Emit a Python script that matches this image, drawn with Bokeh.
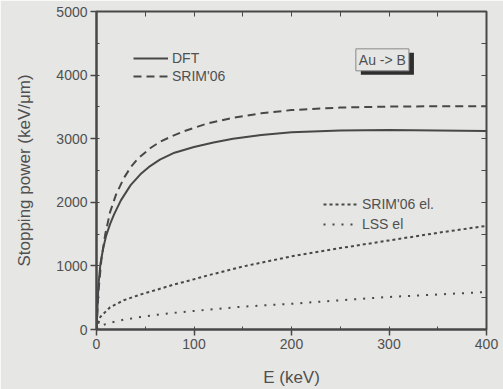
from bokeh.plotting import figure
from bokeh.models import (Legend, LegendItem, LinearAxis, SingleIntervalTicker,
                          Label, Range1d, CustomJSTickFormatter)
from bokeh.embed import file_html
from bokeh.resources import INLINE

# --- data ---
E_dft = [0, 2, 4, 7, 10, 14, 18, 25, 35, 45, 55, 65, 80, 100, 120, 140, 169, 200, 250, 300, 350, 400]
S_dft = [0, 700, 1030, 1290, 1480, 1660, 1810, 2030, 2270, 2440, 2570, 2670, 2780, 2870, 2940, 3000, 3060, 3100, 3130, 3135, 3130, 3120]

E_srim = [0, 2, 5, 9, 14, 20, 28, 35, 42, 55, 65, 76, 90, 100, 114, 140, 169, 200, 250, 300, 350, 400]
S_srim = [0, 600, 1100, 1500, 1850, 2120, 2380, 2550, 2680, 2850, 2950, 3030, 3120, 3170, 3240, 3330, 3400, 3450, 3490, 3505, 3510, 3510]

E_el = [0, 4, 14, 28, 45, 63, 80, 100, 114, 150, 200, 250, 300, 350, 400]
S_srim_el = [0, 200, 350, 460, 550, 630, 710, 790, 850, 990, 1150, 1280, 1400, 1520, 1630]
S_lss_el = [0, 60, 105, 155, 195, 233, 262, 292, 310, 360, 404, 460, 512, 550, 590]

BG = "#e6e6e4"
INK = "#484848"
TXT = "#505050"
FONT = "Liberation Sans"

p = figure(width=503, height=389, output_backend="svg", toolbar_location=None,
           x_range=Range1d(0, 400), y_range=Range1d(0, 5000),
           min_border_left=96, min_border_right=17, min_border_top=11, min_border_bottom=56,
           background_fill_color=BG, border_fill_color=BG)
p.grid.visible = False
p.outline_line_color = INK
p.outline_line_width = 2

p.xaxis.ticker = SingleIntervalTicker(interval=100, num_minor_ticks=2)
p.yaxis.ticker = SingleIntervalTicker(interval=1000, num_minor_ticks=2)
for ax in (p.xaxis[0], p.yaxis[0]):
    ax.axis_line_color = INK
    ax.axis_line_width = 2
    ax.major_tick_line_color = INK
    ax.major_tick_line_width = 1.5
    ax.minor_tick_line_color = INK
    ax.major_tick_out = 6
    ax.major_tick_in = 0
    ax.minor_tick_out = 0
    ax.minor_tick_in = 3
    ax.major_label_text_font = FONT
    ax.major_label_text_font_size = "14px"
    ax.major_label_text_color = TXT
    ax.axis_label_text_font = FONT
    ax.axis_label_text_font_size = "17px"
    ax.axis_label_text_font_style = "normal"
    ax.axis_label_text_color = TXT
    ax.major_label_standoff = 3
p.xaxis.axis_label = "E (keV)"
p.yaxis.axis_label = "Stopping power (keV/μm)"
p.xaxis.axis_label_standoff = 16
p.yaxis.axis_label_standoff = 19

# mirrored axes (ticks only, no labels)
blank = CustomJSTickFormatter(code="return ''")
top = LinearAxis(ticker=SingleIntervalTicker(interval=50, num_minor_ticks=1), formatter=blank)
right = LinearAxis(ticker=SingleIntervalTicker(interval=500, num_minor_ticks=1), formatter=blank)
for ax in (top, right):
    ax.axis_line_color = None
    ax.major_tick_line_color = INK
    ax.major_tick_in = 5
    ax.major_tick_out = 0
    ax.minor_tick_line_color = None
    ax.major_label_standoff = 0
p.add_layout(top, "above")
p.add_layout(right, "right")

r_dft = p.line(E_dft, S_dft, line_color=INK, line_width=2)
r_srim = p.line(E_srim, S_srim, line_color=INK, line_width=2, line_dash="8 5")
r_sel = p.line(E_el, S_srim_el, line_color=INK, line_width=2, line_dash="3 3")
r_lss = p.line(E_el, S_lss_el, line_color=INK, line_width=2, line_dash="2 7")

leg1 = Legend(items=[LegendItem(label="DFT", renderers=[r_dft]),
                     LegendItem(label="SRIM'06", renderers=[r_srim])],
              location=(37, 244))
leg2 = Legend(items=[LegendItem(label="SRIM'06 el.", renderers=[r_sel]),
                     LegendItem(label="LSS el", renderers=[r_lss])],
              location=(227, 95))
for lg in (leg1, leg2):
    lg.background_fill_alpha = 0
    lg.border_line_alpha = 0
    lg.padding = 0
    lg.margin = 0
    lg.spacing = 0
    lg.glyph_width = 35
    lg.glyph_height = 18
    lg.label_standoff = 4
    lg.label_text_font = FONT
    lg.label_text_font_size = "14px"
    lg.label_text_color = TXT
    lg.label_height = 18
leg2.glyph_height = 20
leg2.label_height = 20
p.add_layout(leg1, "center")
p.add_layout(leg2, "center")

# "Au -> B" boxed label with a drop shadow
shadow = Label(x=266, y=4067, text="Au -> B", text_font=FONT, text_font_size="14px",
               text_color="#2e2e2e", background_fill_color="#2e2e2e", padding=3,
               x_offset=5, y_offset=-4)
box = Label(x=266, y=4067, text="Au -> B", text_font=FONT, text_font_size="14px",
            text_color=TXT, background_fill_color=BG, border_line_color="#8a8a8a",
            border_line_width=1, padding=3)
p.add_layout(shadow)
p.add_layout(box)

open("out.html", "w").write(file_html(p, INLINE))
